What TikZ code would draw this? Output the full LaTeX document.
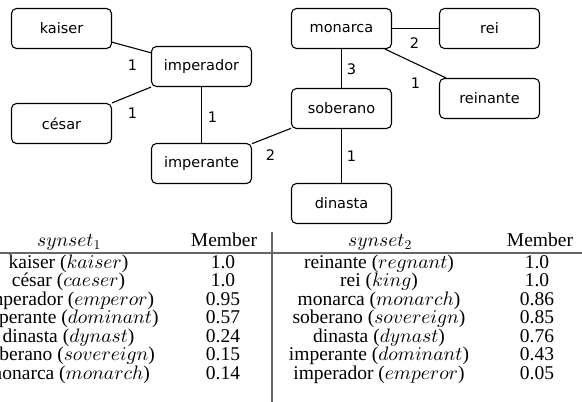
\documentclass[tikz,border=0pt]{standalone}
\usepackage[no-math]{fontspec}
\setmainfont{Liberation Serif}
\newfontfamily\boxfont{DejaVu Sans}
\DeclareFontFamily{OML}{cmm}{\skewchar\font127 }
\DeclareFontShape{OML}{cmm}{m}{it}{<-7.5>cmmi7<7.5-9.5>cmmi9<9.5->cmmi10}{}
\DeclareFontFamily{OT1}{cmr}{\hyphenchar\font45 }
\DeclareFontShape{OT1}{cmr}{m}{n}{<-7.5>cmr7<7.5-9.5>cmr9<9.5->cmr10}{}
\begin{document}
\begin{tikzpicture}[x=1pt,y=-1pt,
  wbox/.style={draw, rounded corners=5pt, line width=1.1pt, minimum width=100pt, minimum height=40pt, font=\boxfont\fontsize{14.5}{16}\selectfont, inner sep=0pt},
  elabel/.style={font=\boxfont\fontsize{14.5}{16}\selectfont, inner sep=0pt},
  link/.style={line width=1.1pt},
  cell/.style={anchor=base, inner sep=0pt, font=\fontsize{19.5}{19.5}\selectfont},
  rulecol/.style={draw=black!60, line width=1.5pt}]
\useasboundingbox (0,0) rectangle (582,402);
\clip (0,0) rectangle (582,402);
% graph
\begin{scope}[shift={(0.5,0.5)}]
\node[wbox] (kaiser) at (61,28) {kaiser};
\node[wbox] (imperador) at (201,66) {imperador};
\node[wbox] (cesar) at (61,123) {césar};
\node[wbox] (imperante) at (201,163) {imperante};
\node[wbox] (monarca) at (341,28) {monarca};
\node[wbox] (rei) at (489,28) {rei};
\node[wbox] (reinante) at (489,98) {reinante};
\node[wbox] (soberano) at (341,108) {soberano};
\node[wbox] (dinasta) at (341,203) {dinasta};
\draw[link] (kaiser) -- (imperador);
\draw[link] (cesar) -- (imperador);
\draw[link] (imperador) -- (imperante);
\draw[link] (imperante) -- (soberano);
\draw[link] (monarca) -- (rei);
\draw[link] (monarca) -- (reinante);
\draw[link] (monarca) -- (soberano);
\draw[link] (soberano) -- (dinasta);
\node[elabel] (w1) at (132,65) {1};
\node[elabel] (w2) at (132,113) {1};
\node[elabel] (w3) at (212,117) {1};
\node[elabel] (w4) at (270,155) {2};
\node[elabel] (w5) at (414,43) {2};
\node[elabel] (w6) at (415,83) {1};
\node[elabel] (w7) at (351,69) {3};
\node[elabel] (w8) at (351,156) {1};
\end{scope}
% table
\coordinate (rl) at (0,253);
\coordinate (rr) at (582,253);
\draw[rulecol] (rl) -- (rr);
\coordinate (vt) at (272,232);
\coordinate (vb) at (272,402);
\draw[rulecol, line width=1.3pt] (vt) -- (vb);
\node[cell] (h1) at (69,246) {$synset_1$};
\node[cell] (h2) at (224,246) {Member};
\node[cell] (h3) at (380,246) {$synset_2$};
\node[cell] (h4) at (540,246) {Member};
\foreach \a/\b [count=\i] in {kaiser ($kaiser$)/1.0, césar ($caeser$)/1.0, imperador ($emperor$)/0.95, imperante ($dominant$)/0.57, dinasta ($dynast$)/0.24, soberano ($sovereign$)/0.15, monarca ($monarch$)/0.14}
{
  \node[cell] (la\i) at (68.5,{249.5+18.5*\i}) {\a};
  \node[cell] (lb\i) at (223,{249.5+18.5*\i}) {\b};
}
\foreach \a/\b [count=\i] in {reinante ($regnant$)/1.0, rei ($king$)/1.0, monarca ($monarch$)/0.86, soberano ($sovereign$)/0.85, dinasta ($dynast$)/0.76, imperante ($dominant$)/0.43, imperador ($emperor$)/0.05}
{
  \node[cell] (ra\i) at (379,{249.5+18.5*\i}) {\a};
  \node[cell] (rb\i) at (537,{249.5+18.5*\i}) {\b};
}
\end{tikzpicture}
\end{document}
